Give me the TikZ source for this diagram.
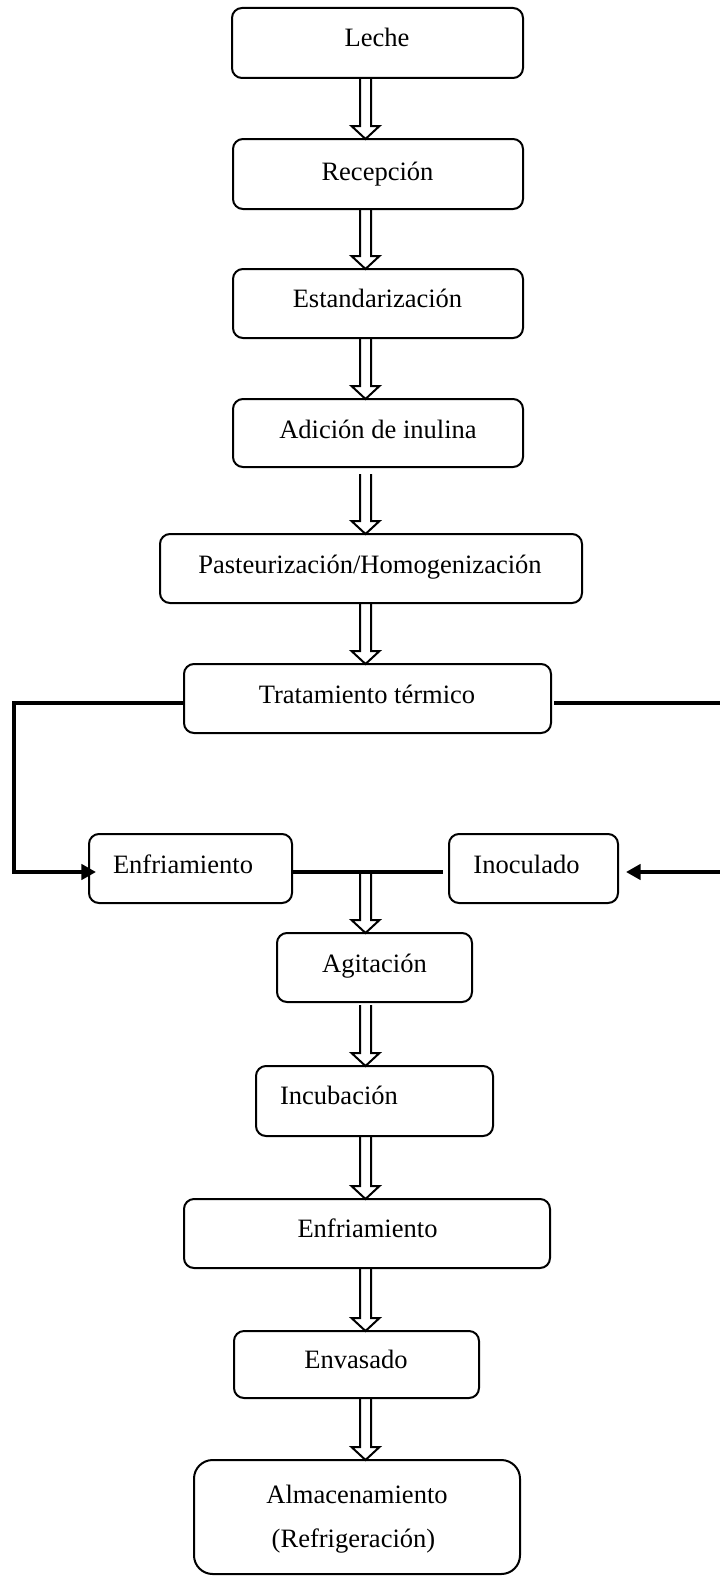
\documentclass[tikz,border=0pt]{standalone}
\usepackage{fontspec}
\setmainfont{Liberation Serif}
\usetikzlibrary{calc,arrows.meta}
\tikzset{
  box/.style={draw=black, line width=1.5pt, rounded corners=7.5pt, inner sep=0pt, outer sep=0pt, fill=white},
  bigbox/.style={box, rounded corners=14pt},
  txt/.style={inner sep=0pt, outer sep=0pt, anchor=base, font=\fontsize{19.9pt}{24pt}\selectfont},
  hollowarrow/.style={draw=black, line width=1.5pt, line join=miter},
  conn/.style={draw=black, line width=2.7pt, line join=miter},
  tipped/.style={conn, -{Triangle[length=11pt,width=11.5pt]}}
}
\newcommand\pbox[5][]{\node[box,#1,minimum width={#4*0.75pt},minimum height={#5*0.75pt}] (#2) at (#3) {};}
\newcommand\harrow[2]{\draw[hollowarrow] let \p1=(#1), \p2=(#2) in
  (\x1-4.125pt,\y1) -- (\x1-4.125pt,\y2+9.75pt) -- (\x1-10.5pt,\y2+9.75pt) -- (\x1,\y2)
  -- (\x1+10.5pt,\y2+9.75pt) -- (\x1+4.125pt,\y2+9.75pt) -- (\x1+4.125pt,\y1);}
\begin{document}
\begin{tikzpicture}[x=0.75pt,y=-0.75pt]
\clip (0,0) rectangle (720,1577);
\fill[white] (0,0) rectangle (720,1577);
\coordinate (ax) at (365.5,0);

% boxes
\pbox{leche}{377.5,43}{291}{70}
\pbox{rec}{378,174}{290}{70}
\pbox{est}{378,303.5}{290}{69}
\pbox{adi}{378,433}{290}{68}
\pbox{pas}{371,568.5}{422}{69}
\pbox{tra}{367.5,698.5}{367}{69}
\pbox{enfa}{190.5,868.5}{203}{69}
\pbox{ino}{533.5,868.5}{169}{69}
\pbox{agi}{374.5,967.5}{195}{69}
\pbox{inc}{374.5,1101}{237}{70}
\pbox{enfb}{367,1233.5}{366}{69}
\pbox{env}{356.5,1364.5}{245}{67}
\pbox[bigbox]{alm}{357,1517}{326}{114}

% texts
\node[txt] (leche-t) at (377,47) {Leche};
\node[txt] (rec-t) at (377.5,180) {Recepción};
\node[txt] (est-t) at (377.5,307) {Estandarización};
\node[txt] (adi-t) at (378,438) {Adición de inulina};
\node[txt] (pas-t) at (370,573) {Pasteurización/Homogenización};
\node[txt] (tra-t) at (367,703) {Tratamiento térmico};
\node[txt] (enfa-t) at (183,873) {Enfriamiento};
\node[txt] (ino-t) at (526.5,873) {Inoculado};
\node[txt] (agi-t) at (374.5,972) {Agitación};
\node[txt] (inc-t) at (339,1104) {Incubación};
\node[txt] (enfb-t) at (367.5,1237) {Enfriamiento};
\node[txt] (env-t) at (356,1368) {Envasado};
\node[txt] (alm-t1) at (357,1503) {Almacenamiento};
\node[txt] (alm-t2) at (353.5,1547) {(Refrigeración)};

% branch connectors
\coordinate (L1) at (14,703);
\coordinate (L2) at (14,872);
\coordinate (R1) at (735,703);
\coordinate (R2) at (735,872);
\draw[tipped] (tra.west |- L1) -- (L1) -- (L2) -- ($(enfa.west |- L2)+(7,0)$);
\draw[tipped] ($(tra.east |- R1)+(3,0)$) -- (R1) -- (R2) -- ($(ino.east |- R2)+(8,0)$);
\draw[conn] (enfa.east |- L2) -- ($(ino.west |- L2)+(-6,0)$);

% hollow arrows
\harrow{ax |- leche.south}{ax |- rec.north}
\harrow{ax |- rec.south}{ax |- est.north}
\harrow{ax |- est.south}{ax |- adi.north}
\harrow{$(ax |- adi.south)+(0,7)$}{ax |- pas.north}
\harrow{ax |- pas.south}{ax |- tra.north}
\harrow{ax |- L2}{ax |- agi.north}
\harrow{$(ax |- agi.south)+(0,3)$}{ax |- inc.north}
\harrow{ax |- inc.south}{ax |- enfb.north}
\harrow{ax |- enfb.south}{ax |- env.north}
\harrow{ax |- env.south}{ax |- alm.north}
\end{tikzpicture}
\end{document}
